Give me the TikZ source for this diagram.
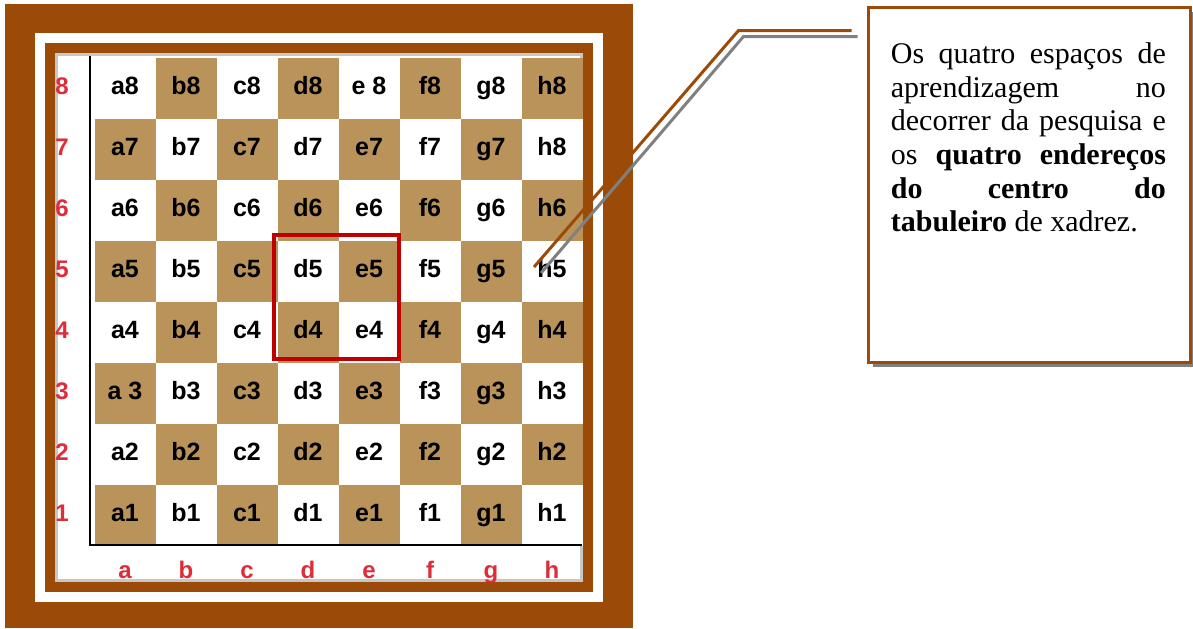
\documentclass[tikz,border=0pt]{standalone}
\usepackage{fontspec}
\setmainfont{Liberation Serif}
\newfontfamily\boardfont{Liberation Sans}
\usepackage{tikz}
\usetikzlibrary{positioning,calc,shadows}
\definecolor{frame}{RGB}{156,74,8}
\definecolor{wood}{RGB}{186,147,90}
\definecolor{coordred}{RGB}{222,44,56}
\definecolor{markred}{RGB}{192,0,0}
\definecolor{shadowgray}{RGB}{128,128,128}
\newcommand\fileletter[1]{\ifcase#1\or a\or b\or c\or d\or e\or f\or g\or h\fi}

\begin{document}
\begin{tikzpicture}[x=0.5pt,y=-0.5pt,
  sq/.style={minimum size=30.5pt,inner sep=0pt,text height=9pt,text depth=2.6pt,
    font=\boardfont\bfseries\fontsize{12.5}{14}\selectfont},
  sqdark/.style={sq,fill=wood},
  sqlight/.style={sq,fill=white},
  coord/.style={text=coordred,inner sep=0pt,text height=8.6pt,text depth=2.5pt,
    font=\boardfont\bfseries\fontsize{12}{14}\selectfont},
  callout/.style={draw=frame,line width=1.5pt,fill=white,minimum width=161pt,minimum height=177.5pt,inner sep=0pt,
    drop shadow={shadow xshift=2.5pt,shadow yshift=-2.5pt,fill=shadowgray,opacity=1}},
  lead/.style={line width=1.5pt}
]
\useasboundingbox (0,0) rectangle (1193,628);

% Frames
\fill[frame] (5,4) rectangle (633,628);
\fill[white] (35,33) rectangle (603,602);
\fill[frame] (45,43) rectangle (593,592);
\fill[white] (55,53) rectangle (583,582);
\draw[black!22,line width=1.5pt] (56.5,54.5) rectangle (581.5,580.5);

% Squares
\foreach \r/\labs in {8/{a8,b8,c8,d8,e 8,f8,g8,h8},
                      7/{a7,b7,c7,d7,e7,f7,g7,h8},
                      6/{a6,b6,c6,d6,e6,f6,g6,h6},
                      5/{a5,b5,c5,d5,e5,f5,g5,h5},
                      4/{a4,b4,c4,d4,e4,f4,g4,h4},
                      3/{a 3,b3,c3,d3,e3,f3,g3,h3},
                      2/{a2,b2,c2,d2,e2,f2,g2,h2},
                      1/{a1,b1,c1,d1,e1,f1,g1,h1}}
  \foreach \t [count=\c] in \labs {
    \pgfmathtruncatemacro\sqpar{mod(\c+\r,2)}
    \ifnum\sqpar=0 \def\sqkind{sqdark}\else\def\sqkind{sqlight}\fi
    \edef\sqname{\fileletter{\c}\r}
    \node[\sqkind] (\sqname) at ({64+61*\c},{576-61*\r}) {\t};
  }

% Axes and coordinates
\draw[line width=1pt] (90,56) -- (90,545) -- (582,545);
\foreach \r in {1,...,8}
  \node[coord] (rank\r) at (62,{576-61*\r}) {\r};
\foreach \c in {1,...,8}
  \node[coord] (file\c) at ({64+61*\c},572) {\fileletter{\c}};

% Centre
\draw[markred,line width=2.25pt] ($(d5.north west)+(-3,-5)$) rectangle ($(e4.south east)+(-1,-4)$);

% Callout
\node[callout] (callout) at (1029,184.5) {};
\node[anchor=north west,text width=137.5pt,align=justify,inner sep=0pt,font=\fontsize{15}{16.8}\selectfont]
  (calltext) at ($(callout.north west)+(24,37)$)
  {Os quatro espaços de\linebreak aprendizagem no\linebreak decorrer da pesquisa e\linebreak
   os \textbf{quatro endereços}\linebreak \textbf{do centro do}\linebreak \textbf{tabuleiro} de xadrez.};

\coordinate (brownstart) at ($(callout.north west)+(-15,25)$);
\coordinate (graystart) at ($(brownstart)+(6,6)$);
\draw[lead,shadowgray] (graystart) -- ++(-114,0) -- ($(h5)+(-11,2)$);
\draw[lead,frame] (brownstart) -- ++(-113,0) -- ($(h5)+(-18,-4)$);
\end{tikzpicture}
\end{document}
